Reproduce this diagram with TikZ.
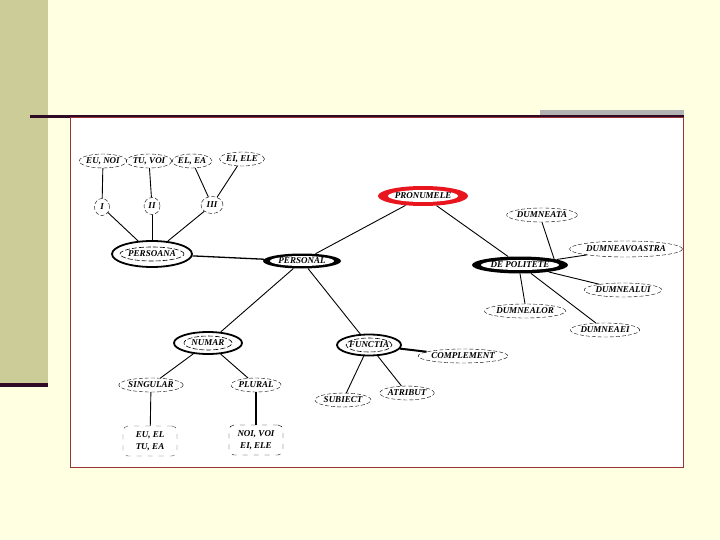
\documentclass[tikz,border=0pt]{standalone}
\usepackage{fontspec}
\setmainfont{Liberation Serif}
\usepackage{xcolor}
\usetikzlibrary{shapes.geometric, positioning}

\definecolor{slidebg}{HTML}{FFFFE1}
\definecolor{sideband}{HTML}{CCCC99}
\definecolor{darkbar}{HTML}{2E0A26}
\definecolor{graybar}{HTML}{B2B2B2}
\definecolor{framered}{HTML}{993333}
\definecolor{ringred}{HTML}{E8141E}

\begin{document}
\begin{tikzpicture}[x=1pt, y=-1pt,
        leaf/.style={ellipse, draw, dash pattern=on 4pt off 2pt, inner sep=0pt, minimum height=14pt, font=\fontsize{9}{9}\selectfont\bfseries\itshape},
        hub/.style n args={3}{ellipse, draw, line width=1.8pt, inner sep=0pt, font=\fontsize{9}{9}\selectfont\bfseries\itshape,
            path picture={\draw[dash pattern=on 5pt off 2pt, line width=0.6pt] (path picture bounding box.center) ellipse [x radius=#2, y radius=#3];}, minimum width=#1},
        ring/.style n args={3}{ellipse, fill=#1, inner sep=0pt, font=\fontsize{9}{9}\selectfont\bfseries\itshape,
            path picture={\fill[white] (path picture bounding box.center) ellipse [x radius=#2, y radius=#3];}},
        wordbox/.style={rectangle, rounded corners=5pt, draw=black!70, dash pattern=on 5pt off 6pt, inner sep=0pt, minimum width=54pt, minimum height=30pt, align=center, font=\fontsize{9}{11.5}\selectfont\bfseries\itshape},
        link/.style={draw, line width=0.9pt},
        boldlink/.style={draw, line width=2pt}
    ]
        % Slide background
        \fill[slidebg] (0,0) rectangle (720,540);
        \fill[sideband] (0,0) rectangle (48,383);
        \fill[darkbar] (0,383) rectangle (48,387);
        \fill[graybar] (540,110) rectangle (684,116);
        \fill[darkbar] (30,115.5) rectangle (684,118.5);
        \draw[framered, fill=white, line width=1pt] (70,118) rectangle (683,467);

        % Nodes
        \node[ring={ringred}{35pt}{6pt}, minimum width=90pt, minimum height=20pt] (pron) at (423,196) {PRONUMELE};
        \node[ring={black}{32pt}{5pt}, minimum width=78pt, minimum height=15pt] (pers) at (302,261) {PERSONAL};
        \node[ring={black}{39pt}{5pt}, minimum width=96pt, minimum height=17pt] (polit) at (520,265) {DE POLITETE};

        \node[hub={80pt}{32pt}{7pt}, minimum height=26pt] (persoana) at (152,254) {PERSOANA};
        \node[hub={68pt}{24pt}{7pt}, minimum height=22pt] (numar) at (208,343) {NUMAR};
        \node[hub={64pt}{23pt}{7pt}, minimum height=21pt] (functia) at (369,345) {FUNCTIA};

        \node[leaf, minimum width=44pt] (eunoi) at (103,161) {EU, NOI};
        \node[leaf, minimum width=42pt] (tuvoi) at (149,161) {TU, VOI};
        \node[leaf, minimum width=40pt] (elea) at (192,161) {EL, EA};
        \node[leaf, minimum width=45pt] (eiele) at (242,159) {EI, ELE};
        \node[leaf, minimum width=15pt, minimum height=17pt] (p1) at (102,207) {I};
        \node[leaf, minimum width=16pt, minimum height=17pt] (p2) at (152,206) {II};
        \node[leaf, minimum width=22pt, minimum height=17pt] (p3) at (212,205) {III};

        \node[leaf, minimum width=70pt] (dta) at (542,215) {DUMNEATA};
        \node[leaf, minimum width=96pt, minimum height=16pt] (dvoastra) at (626,249) {DUMNEAVOASTRA};
        \node[leaf, minimum width=70pt] (dlui) at (623,290) {DUMNEALUI};
        \node[leaf, minimum width=74pt] (dlor) at (525,311) {DUMNEALOR};
        \node[leaf, minimum width=64pt] (dei) at (605,330) {DUMNEAEI};

        \node[leaf, minimum width=60pt] (sing) at (151,385) {SINGULAR};
        \node[leaf, minimum width=50pt] (plur) at (256,385) {PLURAL};
        \node[leaf, minimum width=80pt] (compl) at (463,356) {COMPLEMENT};
        \node[leaf, minimum width=56pt] (subj) at (343,400) {SUBIECT};
        \node[leaf, minimum width=52pt] (atrib) at (407,393) {ATRIBUT};

        \node[wordbox] (sgbox) at (150,441) {EU, EL\\TU, EA};
        \node[wordbox, draw=black] (plbox) at (256,440) {NOI, VOI\\EI, ELE};

        % Links
        \draw[link] (eunoi) -- (p1);
        \draw[link] (tuvoi) -- (p2);
        \draw[link] (elea) -- (p3);
        \draw[link] (eiele) -- (p3);
        \draw[link] (p1) -- (persoana);
        \draw[link] (p2) -- (persoana);
        \draw[link] (p3) -- (persoana);
        \draw[link, line width=1.3pt] (persoana) -- (pers);
        \draw[link] (pers) -- (pron);
        \draw[link] (pron) -- (polit);
        \draw[link] (dta.south) -- (polit.north east);
        \draw[link] (polit) -- (dvoastra);
        \draw[link] (polit) -- (dlui);
        \draw[link] (polit.south) -- (dlor.north);
        \draw[link] (polit) -- (dei);
        \draw[link] (pers) -- (numar);
        \draw[link] (pers) -- (functia);
        \draw[link] (numar) -- (sing);
        \draw[link] (numar) -- (plur);
        \draw[link] (functia) -- (subj);
        \draw[link] (functia) -- (atrib);
        \draw[boldlink] (functia) -- (compl);
        \draw[link] (sing) -- (sgbox);
        \draw[boldlink] (plur) -- (plbox);
\end{tikzpicture}
\end{document}
